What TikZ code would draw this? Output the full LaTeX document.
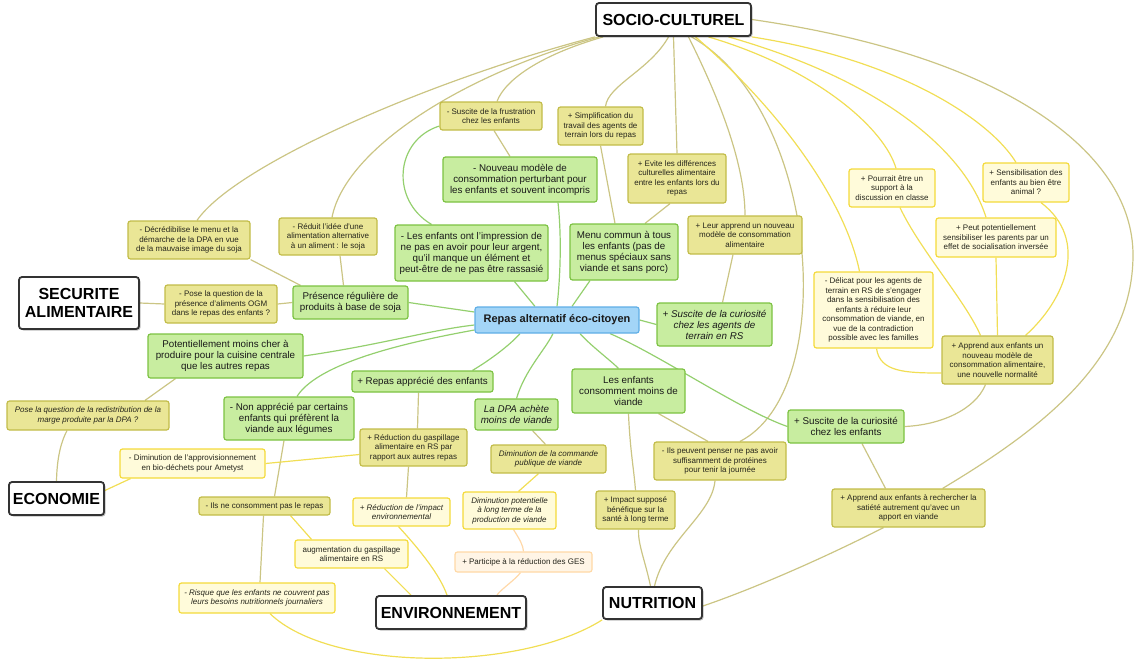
\documentclass[tikz,border=0pt]{standalone}
\usepackage{fontspec}
\setmainfont{Liberation Sans}
\usetikzlibrary{backgrounds,shadows}
\definecolor{gfill}{HTML}{C8EDA0}
\definecolor{gdraw}{HTML}{7CC242}
\definecolor{ofill}{HTML}{EAE696}
\definecolor{odraw}{HTML}{C2BC48}
\definecolor{yfill}{HTML}{FFFBDA}
\definecolor{ydraw}{HTML}{F4DA3A}
\definecolor{pfill}{HTML}{FFF5E6}
\definecolor{pdraw}{HTML}{FFD9A6}
\definecolor{cfill}{HTML}{A3D5F7}
\definecolor{cdraw}{HTML}{5FAEE6}
\definecolor{catdraw}{HTML}{333333}
\definecolor{oline}{HTML}{CBC584}
\definecolor{yline}{HTML}{F1DE55}
\definecolor{gline}{HTML}{94CF6E}
\definecolor{pline}{HTML}{FFD8A8}
\definecolor{txt}{HTML}{26261C}
\newcommand{\mmsmall}{\fontsize{8}{9.5}\selectfont}
\newcommand{\mmgreen}{\fontsize{9.8}{11}\selectfont}
\newcommand{\mmcent}{\fontsize{11}{13}\selectfont\bfseries}
\newcommand{\mmcat}{\fontsize{16}{18}\selectfont\bfseries}
\tikzset{
 box/.style={rounded corners=2.5pt, align=center, inner sep=1.5pt, line width=1.2pt},
 onode/.style={box, draw=odraw, fill=ofill, font=\mmsmall, text=txt},
 ynode/.style={box, draw=ydraw, fill=yfill, font=\mmsmall, text=txt},
 pnode/.style={box, draw=pdraw, fill=pfill, font=\mmsmall, text=txt},
 gnode/.style={box, draw=gdraw, fill=gfill, font=\mmgreen, text=black!90},
 cnode/.style={box, draw=cdraw, fill=cfill, font=\mmcent, text=black!90},
 catnode/.style={box, rounded corners=3pt, draw=catdraw, fill=white, line width=1.8pt, font=\mmcat, text=black,
   drop shadow={shadow xshift=1.5pt, shadow yshift=-1.5pt, fill=black, opacity=0.25}},
 ol/.style={draw=oline, line width=1.2pt},
 yl/.style={draw=yline, line width=1.2pt},
 gl/.style={draw=gline, line width=1.2pt},
 pl/.style={draw=pline, line width=1.2pt},
}
\begin{document}
\begin{tikzpicture}[x=1pt,y=-1pt]
\useasboundingbox (0,0) rectangle (1140,659);
% categories
\node[catnode, minimum width=155, minimum height=33] (sc) at (673.5,19.5) {SOCIO-CULTUREL};
\node[catnode, minimum width=120, minimum height=52] (sec) at (79,303) {SECURITE\\ALIMENTAIRE};
\node[catnode, minimum width=95, minimum height=33] (eco) at (56.5,498.5) {ECONOMIE};
\node[catnode, minimum width=150, minimum height=33] (env) at (451,612.5) {ENVIRONNEMENT};
\node[catnode, minimum width=99, minimum height=32] (nut) at (652.5,603) {NUTRITION};
% central
\node[cnode, minimum width=164, minimum height=26] (cent) at (557,320) {Repas alternatif éco-citoyen};
% green
\node[gnode, minimum width=154, minimum height=45] (g1) at (520,179.5) {- Nouveau modèle de\\consommation perturbant pour\\les enfants et souvent incompris};
\node[gnode, minimum width=153, minimum height=56] (g2) at (471.5,253) {- Les enfants ont l'impression de\\ne pas en avoir pour leur argent,\\qu'il manque un élément et\\peut-être de ne pas être rassasié};
\node[gnode, minimum width=108, minimum height=56] (g3) at (624,252) {Menu commun à tous\\les enfants (pas de\\menus spéciaux sans\\viande et sans porc)};
\node[gnode, minimum width=115, minimum height=33] (g4) at (350.5,302.5) {Présence régulière de\\produits à base de soja};
\node[gnode, minimum width=115, minimum height=43, font=\mmgreen\itshape] (g5) at (714.5,324.5) {+ Suscite de la curiosité\\chez les agents de\\terrain en RS};
\node[gnode, minimum width=155, minimum height=44] (g6) at (225.5,356) {Potentiellement moins cher à\\produire pour la cuisine centrale\\que les autres repas};
\node[gnode, minimum width=141, minimum height=21] (g7) at (422.5,381.5) {+ Repas apprécié des enfants};
\node[gnode, minimum width=130, minimum height=43] (g8) at (289,418.5) {- Non apprécié par certains\\enfants qui préfèrent la\\viande aux légumes};
\node[gnode, minimum width=83, minimum height=31, font=\mmgreen\itshape] (g9) at (516.5,414.5) {La DPA achète\\moins de viande};
\node[gnode, minimum width=113, minimum height=44] (g10) at (628.5,391) {Les enfants\\consomment moins de\\viande};
\node[gnode, minimum width=116, minimum height=33] (g11) at (846,426.5) {+ Suscite de la curiosité\\chez les enfants};
% olive
\node[onode, minimum width=102, minimum height=28] (y1) at (491,116) {- Suscite de la frustration\\chez les enfants};
\node[onode, minimum width=85, minimum height=38] (y2) at (600.5,126) {+ Simplification du\\travail des agents de\\terrain lors du repas};
\node[onode, minimum width=98, minimum height=49] (y3) at (677,178.5) {+ Evite les différences\\culturelles alimentaire\\entre les enfants lors du\\repas};
\node[onode, minimum width=122, minimum height=38] (y4) at (189,240) {- Décrédibilise le menu et la\\démarche de la DPA en vue\\de la mauvaise image du soja};
\node[onode, minimum width=98, minimum height=37] (y5) at (328,236.5) {- Réduit l'idée d'une\\alimentation alternative\\à un aliment : le soja};
\node[onode, minimum width=112, minimum height=38] (y6) at (221,304) {- Pose la question de la\\présence d'aliments OGM\\dans le repas des enfants~?};
\node[onode, minimum width=114, minimum height=38] (y7) at (745,235) {+ Leur apprend un nouveau\\modèle de consommation\\alimentaire};
\node[onode, minimum width=162, minimum height=29, font=\mmsmall\itshape] (y8) at (88,415.5) {Pose la question de la redistribution de la\\marge produite par la DPA~?};
\node[onode, minimum width=107, minimum height=37] (y9) at (413.5,447.5) {+ Réduction du gaspillage\\alimentaire en RS par\\rapport aux autres repas};
\node[onode, minimum width=115, minimum height=28, font=\mmsmall\itshape] (y10) at (548.5,459) {Diminution de la commande\\publique de viande};
\node[onode, minimum width=132, minimum height=38] (y11) at (720,461) {- Ils peuvent penser ne pas avoir\\suffisamment de protéines\\pour tenir la journée};
\node[onode, minimum width=79, minimum height=38] (y12) at (635.5,510) {+ Impact supposé\\bénéfique sur la\\santé à long terme};
\node[onode, minimum width=131, minimum height=18] (y13) at (264.5,506) {- Ils ne consomment pas le repas};
\node[onode, minimum width=153, minimum height=38] (y14) at (908.5,508) {+ Apprend aux enfants à rechercher la\\satiété autrement qu'avec un\\apport en viande};
\node[onode, minimum width=111, minimum height=48] (y15) at (997.5,360) {+ Apprend aux enfants un\\nouveau modèle de\\consommation alimentaire,\\une nouvelle normalité};
% light yellow
\node[ynode, minimum width=86, minimum height=38] (l1) at (892,188) {+ Pourrait être un\\support à la\\discussion en classe};
\node[ynode, minimum width=86, minimum height=39] (l2) at (1026,182.5) {+ Sensibilisation des\\enfants au bien être\\animal~?};
\node[ynode, minimum width=120, minimum height=39] (l3) at (996,237.5) {+ Peut potentiellement\\sensibiliser les parents par un\\effet de socialisation inversée};
\node[ynode, minimum width=119, minimum height=76] (l4) at (873.5,310) {- Délicat pour les agents de\\terrain en RS de s'engager\\dans la sensibilisation des\\enfants à réduire leur\\consommation de viande, en\\vue de la contradiction\\possible avec les familles};
\node[ynode, minimum width=145, minimum height=29] (l5) at (192.5,463.5) {- Diminution de l'approvisionnement\\en bio-déchets pour Ametyst};
\node[ynode, minimum width=97, minimum height=28, font=\mmsmall\itshape] (l6) at (401.5,512) {+ Réduction de l'impact\\environnemental};
\node[ynode, minimum width=93, minimum height=37, font=\mmsmall\itshape] (l7) at (509.5,510.5) {Diminution potentielle\\à long terme de la\\production de viande};
\node[ynode, minimum width=113, minimum height=28] (l8) at (351.5,554) {augmentation du gaspillage\\alimentaire en RS};
\node[ynode, minimum width=156, minimum height=30, font=\mmsmall\itshape] (l9) at (257,598) {- Risque que les enfants ne couvrent pas\\leurs besoins nutritionnels journaliers};
\node[pnode, minimum width=137, minimum height=20] (p1) at (523.5,562) {+ Participe à la réduction des GES};
\coordinate (rr) at (1133,255);
% connectors
\begin{scope}[on background layer]
% from SOCIO-CULTUREL
\draw[ol] (sc.south west) .. controls (430,80) and (235,165) .. ([xshift=8pt]y4.north);
\draw[ol] ([xshift=4pt]sc.south west) .. controls (460,75) and (345,150) .. ([xshift=4pt]y5.north);
\draw[ol] ([xshift=8pt]sc.south west) .. controls (540,55) and (505,80) .. ([xshift=6pt]y1.north);
\draw[ol] ([xshift=-5pt]sc.south) .. controls (650,70) and (608,85) .. ([xshift=5pt]y2.north);
\draw[ol] (sc.south) -- (y3.north);
\draw[ol] ([xshift=15pt]sc.south) .. controls (715,90) and (745,160) .. (y7.north);
\draw[ol] ([xshift=18pt]sc.south) .. controls (820,110) and (840,390) .. ([xshift=20pt]y11.north);
\draw[yl] ([xshift=22pt]sc.south) .. controls (780,110) and (845,200) .. ([xshift=-14pt]l4.north);
\draw[yl] ([xshift=35pt]sc.south) .. controls (820,70) and (885,130) .. ([xshift=4pt]l1.north);
\draw[yl] ([xshift=55pt]sc.south) .. controls (880,80) and (965,150) .. ([xshift=-10pt]l3.north);
\draw[yl] (sc.south east) .. controls (900,60) and (990,120) .. ([xshift=-10pt]l2.north);
\draw[ol] (sc.east) .. controls (1000,55) and (1133,150) .. (rr) .. controls (1133,360) and (1040,430) .. ([xshift=-43pt]y14.north east);
% right cluster
\draw[yl] ([xshift=15pt]l2.south) .. controls (1090,240) and (1065,300) .. ([xshift=28pt]y15.north);
\draw[yl] (l3.south) -- (y15.north);
\draw[yl] ([xshift=8pt]l1.south) .. controls (920,250) and (965,300) .. ([xshift=-17pt]y15.north);
\draw[yl] ([xshift=3pt]l4.south) .. controls (880,372) and (905,373) .. ([yshift=-13pt]y15.west);
\draw[ol] ([xshift=-12pt]y15.south) .. controls (975,410) and (940,425) .. (g11.east);
\draw[ol] ([xshift=16pt]g11.south) -- ([xshift=-23pt]y14.north);
\draw[gl] ([xshift=53pt]cent.south) .. controls (660,355) and (740,410) .. (g11.west);
\draw[ol] ([xshift=-25pt]y14.south) .. controls (820,560) and (750,590) .. ([yshift=-3pt]nut.east);
% nutrition
\draw[ol] ([xshift=-2pt]nut.north) .. controls (645,560) and (638,545) .. ([xshift=3pt]y12.south);
\draw[ol] ([xshift=2pt]nut.north) .. controls (665,540) and (712,515) .. ([xshift=-5pt]y11.south);
\draw[ol] (g10.south) .. controls (630,450) and (634,470) .. (y12.north);
\draw[ol] ([xshift=30pt]g10.south) -- ([xshift=-12pt]y11.north);
\draw[yl] ([xshift=13pt]l9.south) .. controls (330,672) and (520,672) .. (nut.south west);
\draw[ol] ([xshift=3pt]l9.north) -- ([xshift=-1pt]y13.south);
\draw[ol] ([xshift=10pt]y13.north) -- ([xshift=-5pt]g8.south);
\draw[yl] ([xshift=26pt]y13.south) -- ([xshift=-40pt]l8.north);
% environnement
\draw[yl] ([xshift=33pt]l8.south) -- ([xshift=-40pt]env.north);
\draw[yl] ([xshift=-3pt]l6.south) .. controls (420,550) and (440,575) .. ([xshift=-4pt]env.north);
\draw[ol] ([xshift=5pt]l6.north) -- ([xshift=-5pt]y9.south);
\draw[ol] ([xshift=4pt]y9.north) -- ([xshift=-4pt]g7.south);
\draw[yl] ([yshift=-7pt]y9.west) -- (l5.east);
\draw[yl] ([xshift=-62pt]l5.south) -- ([yshift=8pt]eco.east);
\draw[ol] (eco.north) .. controls (57,455) and (62,440) .. ([xshift=-21pt]y8.south);
\draw[ol] ([xshift=57pt]y8.north) -- ([xshift=-50pt]g6.south);
\draw[gl] (g6.east) .. controls (380,345) and (430,330) .. ([yshift=-5pt]cent.west);
\draw[gl] ([xshift=8pt]g8.north) .. controls (320,360) and (420,340) .. ([yshift=-10pt]cent.west);
\draw[gl] ([xshift=50pt]g7.north) .. controls (490,360) and (510,345) .. ([xshift=-37pt]cent.south);
\draw[gl] (g9.north) .. controls (525,370) and (545,350) .. ([xshift=-4pt]cent.south);
\draw[ol] ([xshift=16pt]g9.south) -- ([xshift=-3pt]y10.north);
\draw[yl] ([xshift=-10pt]y10.south) -- ([xshift=9pt]l7.north);
\draw[pl] ([xshift=4pt]l7.south) .. controls (520,540) and (523,545) .. (p1.north);
\draw[pl] ([xshift=-3pt]p1.south) .. controls (515,580) and (500,590) .. ([xshift=46pt]env.north);
% around central
\draw[gl] ([xshift=23pt]cent.south) .. controls (590,345) and (610,360) .. ([xshift=-10pt]g10.north);
\draw[gl] (cent.east) -- (g5.west);
\draw[ol] ([xshift=8pt]g5.north) -- ([xshift=-12pt]y7.south);
\draw[gl] ([xshift=-34pt]g3.south) -- ([xshift=15pt]cent.north);
\draw[gl] ([xshift=43pt]g2.south) -- ([xshift=-22pt]cent.north);
\draw[gl] ([xshift=38pt]g1.south) .. controls (562,240) and (560,280) .. (cent.north);
\draw[ol] ([xshift=3pt]y1.south) -- ([xshift=-10pt]g1.north);
\draw[gl] ([yshift=-10pt]y1.west) .. controls (395,140) and (390,200) .. ([xshift=-40pt]g2.north);
\draw[ol] (y2.south) -- ([xshift=-9pt]g3.north);
\draw[ol] ([xshift=-7pt]y3.south) -- ([xshift=21pt]g3.north);
% soja
\draw[ol] ([xshift=-7pt]g4.north) -- ([xshift=12pt]y5.south);
\draw[ol] ([xshift=-50pt]g4.north) -- (y4.south east);
\draw[gl] (g4.east) -- ([yshift=8pt]cent.west);
\draw[ol] (g4.west) -- (y6.east);
\draw[ol] (y6.west) -- (sec.east);
\end{scope}
\end{tikzpicture}
\end{document}
